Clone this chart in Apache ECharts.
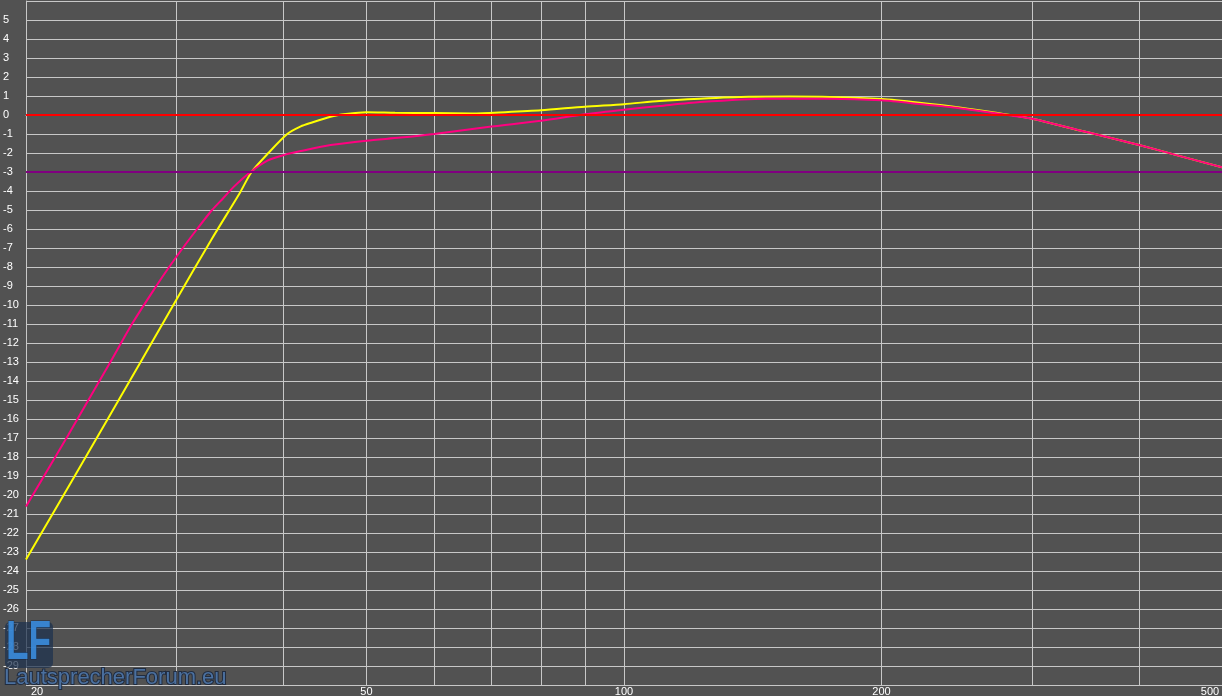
<!DOCTYPE html>
<html>
<head>
<meta charset="utf-8">
<script src="https://cdn.jsdelivr.net/npm/echarts@6/dist/echarts.min.js"></script>
<style>
html,body{margin:0;padding:0;background:#525252;}
#chart{width:1222px;height:696px;}
</style>
</head>
<body>
<div id="chart"></div>
<script>
// ---- data ----
const yellowFreq = [20, 25, 30, 33, 35.5, 36.7, 38.4, 40.4, 41.9, 43.0, 45.4, 47.3, 50, 54, 60, 66.5, 72.6, 80, 90, 100, 110, 122.7, 140, 156, 174, 200, 221.5, 246.6, 274.6, 300, 340, 359, 400, 445.6, 500];
const yellowDb = [-23.4, -15.9, -9.7, -6.5, -4.16, -3.0, -2.0, -1.0, -0.6, -0.42, -0.09, 0.05, 0.15, 0.12, 0.1, 0.08, 0.15, 0.25, 0.44, 0.57, 0.74, 0.86, 0.96, 0.97, 0.95, 0.84, 0.65, 0.4, 0.09, -0.2, -0.8, -1.05, -1.58, -2.15, -2.75];
const pinkFreq = [20, 22.4, 25.1, 26.6, 28.4, 29.4, 30.5, 31.7, 33.0, 34.0, 35.0, 36.6, 38.3, 40.1, 41.9, 45.4, 50, 54.8, 60, 70, 80, 90, 100, 110, 122.7, 146.5, 174, 200, 221.5, 246.6, 274.6, 300, 340, 359, 400, 445.6, 500];
const pinkDb = [-20.6, -16.85, -13.0, -11.0, -9.0, -8.0, -7.0, -6.0, -5.0, -4.38, -3.77, -3.0, -2.4, -2.1, -1.9, -1.58, -1.35, -1.19, -1.0, -0.61, -0.3, 0.04, 0.28, 0.47, 0.68, 0.86, 0.86, 0.77, 0.58, 0.36, 0.07, -0.2, -0.8, -1.05, -1.58, -2.15, -2.75];
const xGridValues = [20, 30, 40, 50, 60, 70, 80, 90, 100, 200, 300, 400, 500];
const xLabelValues = [20, 50, 100, 200, 500];
const yLabelMax = 5, yLabelMin = -29;
const refZero = 0, refMinus3 = -3;
const watermarkText = 'LautsprecherForum.eu';
const logoText = 'LF';

const chart = echarts.init(document.getElementById('chart'), null, {renderer:'canvas'});
const option = {
  backgroundColor: '#525252',
  animation: false,
  grid: {left: 26, right: 0, top: 1, bottom: 11, containLabel: false, outerBoundsMode: 'none'},
  xAxis: {
    type: 'log', logBase: 10, min: 20, max: 500,
    axisLine: {show: true, lineStyle: {color: '#c8c8c8', width: 1}},
    axisTick: {show: false, customValues: xGridValues},
    splitLine: {show: true, lineStyle: {color: '#c8c8c8', width: 1}},
    minorTick: {show: false},
    axisLabel: {
      customValues: xLabelValues,
      color: '#ffffff', fontFamily: 'Liberation Sans', fontSize: 11, margin: 1,
      hideOverlap: false,
      formatter: function (v) {
        if (Math.abs(v - 20) < 0.01) return '{l|20}';
        if (Math.abs(v - 500) < 0.01) return '{r|500}';
        return String(Math.round(v));
      },
      rich: {
        l: {color: '#ffffff', fontFamily: 'Liberation Sans', fontSize: 11, padding: [0, 0, 0, 22]},
        r: {color: '#ffffff', fontFamily: 'Liberation Sans', fontSize: 11, padding: [0, 24, 0, 0]}
      }
    }
  },
  yAxis: {
    type: 'value', min: -30, max: 6, interval: 1,
    axisLine: {show: true, lineStyle: {color: '#c8c8c8', width: 1}},
    axisTick: {show: false},
    splitLine: {show: true, lineStyle: {color: '#c8c8c8', width: 1}},
    axisLabel: {
      color: '#ffffff', fontFamily: 'Liberation Sans', fontSize: 11,
      align: 'left', margin: 23, showMinLabel: true, showMaxLabel: true,
      formatter: function (v) { return (v > yLabelMax || v < yLabelMin) ? '' : String(v); }
    }
  },
  series: [
    {
      type: 'line', name: 'yellow', z: 3,
      data: yellowFreq.map((f, i) => [f, yellowDb[i]]),
      showSymbol: false, smooth: 0.25,
      lineStyle: {color: '#ffff00', width: 2}, itemStyle: {color: '#ffff00'}
    },
    {
      type: 'line', name: 'pink', z: 4,
      data: pinkFreq.map((f, i) => [f, pinkDb[i]]),
      showSymbol: false, smooth: 0.25,
      lineStyle: {color: '#ff0080', width: 2}, itemStyle: {color: '#ff0080'}
    },
    {
      type: 'line', name: 'ref', z: 5, data: [],
      markLine: {
        silent: true, symbol: 'none', animation: false,
        label: {show: false},
        data: [
          {yAxis: refZero, lineStyle: {color: '#ff0000', width: 2, type: 'solid'}},
          {yAxis: refMinus3, lineStyle: {color: '#800080', width: 2, type: 'solid'}}
        ]
      }
    }
  ],
  graphic: [
    {type: 'rect', x: 5, y: 622, z: 100, shape: {width: 48, height: 46, r: 5},
     style: {fill: 'rgba(28,48,78,0.72)'}},
    {type: 'text', x: 6, y: 616, z: 101, scaleX: 0.66,
     style: {text: logoText, fill: 'rgba(58,140,220,0.9)', stroke: 'rgba(20,35,60,0.8)', lineWidth: 1,
             font: 'bold 56px "Liberation Sans"', verticalAlign: 'top'}},
    {type: 'text', x: 4, y: 667, z: 101,
     style: {text: watermarkText, fill: 'rgba(80,120,170,0.9)', stroke: 'rgba(25,38,60,0.85)', lineWidth: 2,
             font: '22px "Liberation Sans"', verticalAlign: 'top'}}
  ]
};
chart.setOption(option);
</script>
</body>
</html>
